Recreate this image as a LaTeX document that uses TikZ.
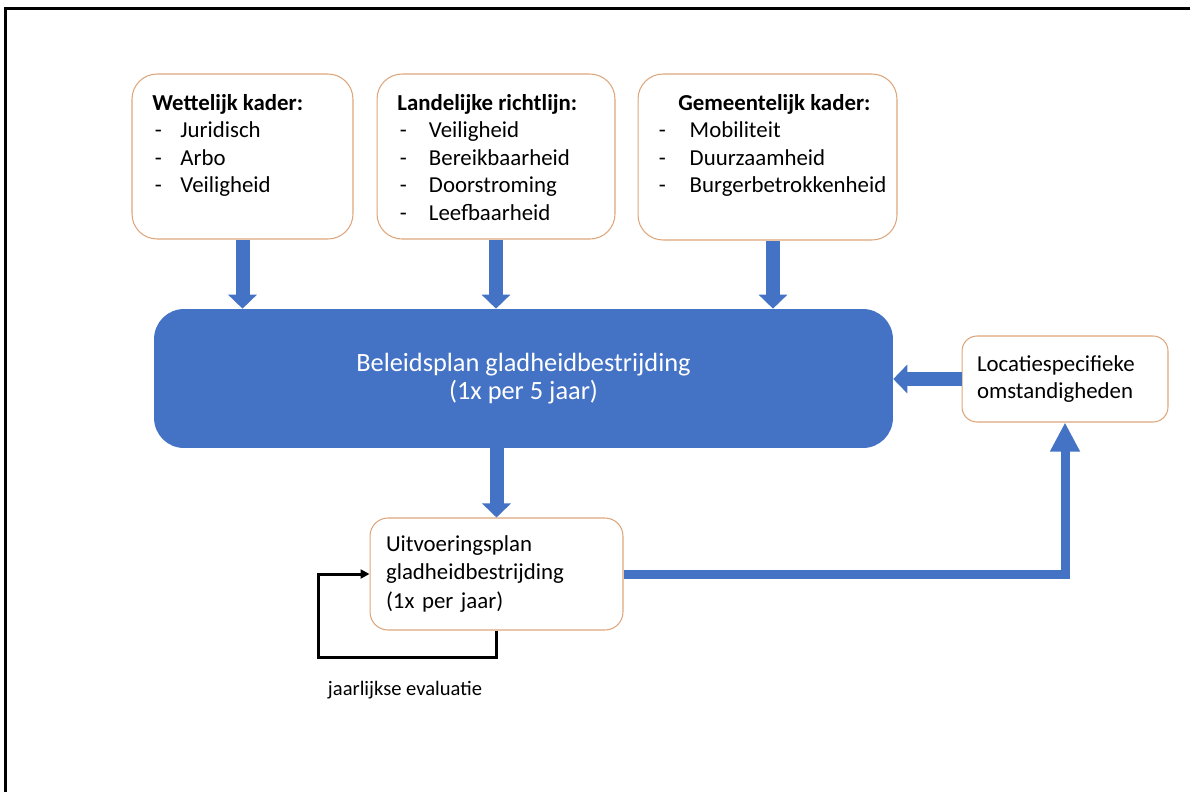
\documentclass[tikz,border=0pt]{standalone}
\usepackage{fontspec}
\setmainfont{Carlito}
\usetikzlibrary{arrows.meta}

\definecolor{planblue}{HTML}{4472C4}
\definecolor{kaderline}{HTML}{DDA67C}
\newcommand{\punt}[2][16pt]{\makebox[#1][l]{\hspace{1.5pt}-}#2}

\begin{document}
\begin{tikzpicture}[x=0.02cm,y=-0.02cm]

\tikzset{kader/.style = {shape=rectangle,draw=kaderline,line width=0.6pt,fill=white,rounded corners=0.5cm,inner sep=0pt}}
\tikzset{kadertext/.style = {anchor=north west,align=left,inner sep=0pt,font=\fontsize{13}{15.6}\selectfont}}
\tikzset{pijl/.style = {draw=planblue,line width=0.28cm,-{Triangle[length=0.28cm,width=0.56cm]}}}
\tikzset{terug/.style = {draw=planblue,line width=0.18cm,-{Triangle[length=0.58cm,width=0.56cm]}}}
\tikzset{lus/.style = {draw=black,line width=0.06cm,-{Triangle[length=0.18cm,width=0.18cm]}}}

\useasboundingbox (0,0) rectangle (1190,792);
%rand
\draw[line width=0.06cm] (1190,8.5) -- (5.5,8.5) -- (5.5,792);

%kaders
\node[kader, minimum width=4.42cm, minimum height=3.3cm] (wk) at (242.5,156.5) {};
\node[kader, minimum width=4.76cm, minimum height=3.3cm] (lr) at (496,156.5) {};
\node[kader, minimum width=5.18cm, minimum height=3.32cm] (gk) at (767.5,157) {};
\node[kadertext] (wkt) at (152,94) {\textbf{Wettelijk kader:}\\ \punt{Juridisch}\\ \punt{Arbo}\\ \punt{Veiligheid}};
\node[kadertext] (lrt) at (397,94) {\textbf{Landelijke richtlijn:}\\ \punt[18pt]{Veiligheid}\\ \punt[18pt]{Bereikbaarheid}\\ \punt[18pt]{Doorstroming}\\ \punt[18pt]{Leefbaarheid}};
\node[kadertext] (gkt) at (656,94) {\hspace*{12.5pt}\textbf{Gemeentelijk kader:}\\ \punt[19pt]{Mobiliteit}\\ \punt[19pt]{Duurzaamheid}\\ \punt[19pt]{Burgerbetrokkenheid}};

%plannen
\node[rectangle, fill=planblue, rounded corners=0.6cm, minimum width=14.78cm, minimum height=2.78cm, text=white, align=center, font=\fontsize{15}{16}\selectfont] (bp) at (523.5,378.5) {Beleidsplan gladheidbestrijding\\(1x per 5 jaar)};
\node[kader, rounded corners=0.36cm, inner xsep=0.32cm, text width=4.42cm, minimum height=2.24cm, align=left, font=\fontsize{13}{16}\selectfont] (uv) at (496.5,574) {Uitvoeringsplan\\gladheidbestrijding\\(1x per jaar)};
\node[kader, rounded corners=0.3cm, inner xsep=0.3cm, text width=3.52cm, minimum height=1.72cm, align=left, font=\fontsize{13}{15.4}\selectfont] (lo) at (1065,379) {Locatiespecifieke\\omstandigheden};

%pijlen
\draw[pijl] (wk.south) -- (wk.south |- bp.north);
\draw[pijl] (lr.south) -- (lr.south |- bp.north);
\draw[pijl] ([xshift=0.11cm]gk.south) -- ([xshift=0.11cm]gk.south |- bp.north);
\draw[pijl] (bp.south -| uv.north) -- (uv.north);
\draw[pijl] (lo.west) -- (lo.west -| bp.east);
\draw[terug] (uv.east) -| (lo.south);

%evaluatie
\coordinate (ev) at (318,657);
\draw[lus] (uv.south) |- (ev) |- (uv.west);
\node[font=\fontsize{11.7}{13}\selectfont] (evl) at (405,690) {jaarlijkse evaluatie};

\end{tikzpicture}
\end{document}
